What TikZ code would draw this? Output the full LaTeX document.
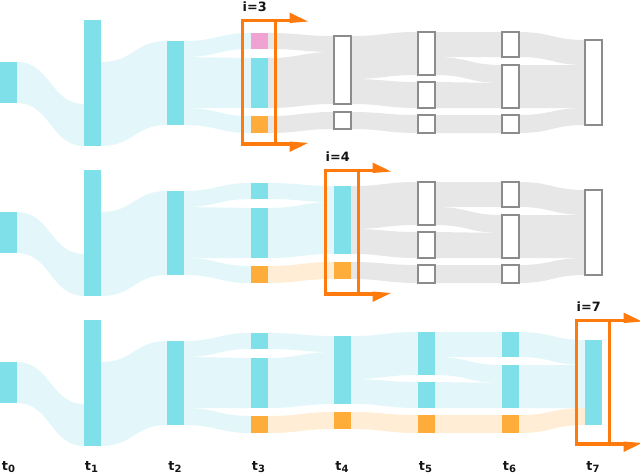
\documentclass[tikz,border=0pt]{standalone}
\usepackage{fontspec}
\setmainfont{DejaVu Sans}
\definecolor{nodecyan}{HTML}{80E0EA}
\definecolor{nodeorange}{HTML}{FFAD3A}
\definecolor{nodepink}{HTML}{F0A3D2}
\definecolor{flowcyan}{HTML}{E3F7FB}
\definecolor{floworange}{HTML}{FFEED5}
\definecolor{flowgray}{HTML}{E7E7E7}
\definecolor{boxgray}{HTML}{8C8C8C}
\definecolor{frameorange}{HTML}{FF7A0C}
\newcommand\band[7]{\fill[#1] (#2,#3) .. controls ({(#2+#5)/2},#3) and ({(#2+#5)/2},#6) .. (#5,#6) -- (#5,#7) .. controls ({(#2+#5)/2},#7) and ({(#2+#5)/2},#4) .. (#2,#4) -- cycle;}
\newcommand\nd[5]{\node[#1, minimum height={#5-#4}] (#2) at ({#3+8.5},{(#4+#5)/2}) {};}
\newcommand\hframe[3]{%
  \draw[frm] ({#1-8.5},20.5) rectangle ({#1+24.5},144);
  \draw[frm] ({#1+24.5},20.5) -- ({#1+40},20.5);
  \fill[frameorange] ({#1+38.5},12.5) -- ({#1+57},21.5) -- ({#1+38.5},23) -- cycle;
  \draw[frm] ({#1+24.5},144) -- ({#1+40},144);
  \fill[frameorange] ({#1+38.5},152) -- ({#1+57},143) -- ({#1+38.5},141.5) -- cycle;
  \node[lbl, anchor=base west] (#3) at ({#1-8.5},11.9) {i=#2};}
\newcommand\tsub[1]{\raisebox{-2.3pt}{\fontsize{10}{10}\selectfont #1}}
\begin{document}
\begin{tikzpicture}[x=1pt,y=-1pt,
  cbar/.style={fill=nodecyan, inner sep=0pt, minimum width=17pt, draw=none},
  obar/.style={fill=nodeorange, inner sep=0pt, minimum width=17pt, draw=none},
  pbar/.style={fill=nodepink, inner sep=0pt, minimum width=17pt, draw=none},
  gbox/.style={fill=white, draw=boxgray, line width=2.5pt, inner sep=0pt, minimum width=17pt},
  frm/.style={draw=frameorange, line width=3.5pt},
  lbl/.style={font=\fontsize{12.8}{14}\selectfont\bfseries, text=black!92, inner sep=0pt}]
\useasboundingbox (0,0) rectangle (640,475);

% ---------------- Row 1 ----------------
\begin{scope}
\band{flowcyan}{17}{62}{103}{84}{104}{146}
\band{flowcyan}{101}{62}{146}{167}{41}{125}
\band{flowcyan}{184}{41}{57}{251}{33}{49}
\band{flowcyan}{184}{57}{108}{251}{58}{108}
\band{flowcyan}{184}{108}{125}{251}{116}{133}
\band{flowgray}{268}{33}{49}{334}{36}{52}
\band{flowgray}{268}{58}{108}{334}{52}{104}
\band{flowgray}{268}{116}{133}{334}{112}{129}
\band{flowgray}{351}{36}{79}{418}{32}{75}
\band{flowgray}{351}{79}{104}{418}{82}{108}
\band{flowgray}{351}{112}{129}{418}{115}{133}
\band{flowgray}{435}{32}{57}{502}{32}{57}
\band{flowgray}{435}{57}{75}{502}{65}{83}
\band{flowgray}{435}{82}{108}{502}{83}{108}
\band{flowgray}{435}{115}{133}{502}{115}{133}
\band{flowgray}{519}{32}{57}{585}{40}{65}
\band{flowgray}{519}{65}{108}{585}{65}{108}
\band{flowgray}{519}{115}{133}{585}{108}{125}
\nd{cbar}{aA}{0}{62}{103}
\nd{cbar}{aB}{84}{20}{146}
\nd{cbar}{aC}{167}{41}{125}
\nd{pbar}{aD1}{251}{33}{49}
\nd{cbar}{aD2}{251}{58}{108}
\nd{obar}{aD3}{251}{116}{133}
\nd{gbox}{aE1}{334}{36}{104}
\nd{gbox}{aE2}{334}{112}{129}
\nd{gbox}{aF1}{418}{32}{75}
\nd{gbox}{aF2}{418}{82}{108}
\nd{gbox}{aF3}{418}{115}{133}
\nd{gbox}{aG1}{502}{32}{57}
\nd{gbox}{aG2}{502}{65}{108}
\nd{gbox}{aG3}{502}{115}{133}
\nd{gbox}{aH}{585}{40}{125}
\hframe{251}{3}{labA}
\end{scope}

% ---------------- Row 2 ----------------
\begin{scope}[yshift=-150pt]
\band{flowcyan}{17}{62}{103}{84}{104}{146}
\band{flowcyan}{101}{62}{146}{167}{41}{125}
\band{flowcyan}{184}{41}{57}{251}{33}{49}
\band{flowcyan}{184}{57}{108}{251}{58}{108}
\band{flowcyan}{184}{108}{125}{251}{116}{133}
\band{flowcyan}{268}{33}{49}{334}{36}{52}
\band{flowcyan}{268}{58}{108}{334}{52}{104}
\band{floworange}{268}{116}{133}{334}{112}{129}
\band{flowgray}{351}{36}{79}{418}{32}{75}
\band{flowgray}{351}{79}{104}{418}{82}{108}
\band{flowgray}{351}{112}{129}{418}{115}{133}
\band{flowgray}{435}{32}{57}{502}{32}{57}
\band{flowgray}{435}{57}{75}{502}{65}{83}
\band{flowgray}{435}{82}{108}{502}{83}{108}
\band{flowgray}{435}{115}{133}{502}{115}{133}
\band{flowgray}{519}{32}{57}{585}{40}{65}
\band{flowgray}{519}{65}{108}{585}{65}{108}
\band{flowgray}{519}{115}{133}{585}{108}{125}
\nd{cbar}{bA}{0}{62}{103}
\nd{cbar}{bB}{84}{20}{146}
\nd{cbar}{bC}{167}{41}{125}
\nd{cbar}{bD1}{251}{33}{49}
\nd{cbar}{bD2}{251}{58}{108}
\nd{obar}{bD3}{251}{116}{133}
\nd{cbar}{bE1}{334}{36}{104}
\nd{obar}{bE2}{334}{112}{129}
\nd{gbox}{bF1}{418}{32}{75}
\nd{gbox}{bF2}{418}{82}{108}
\nd{gbox}{bF3}{418}{115}{133}
\nd{gbox}{bG1}{502}{32}{57}
\nd{gbox}{bG2}{502}{65}{108}
\nd{gbox}{bG3}{502}{115}{133}
\nd{gbox}{bH}{585}{40}{125}
\hframe{334}{4}{labB}
\end{scope}

% ---------------- Row 3 ----------------
\begin{scope}[yshift=-300pt]
\band{flowcyan}{17}{62}{103}{84}{104}{146}
\band{flowcyan}{101}{62}{146}{167}{41}{125}
\band{flowcyan}{184}{41}{57}{251}{33}{49}
\band{flowcyan}{184}{57}{108}{251}{58}{108}
\band{flowcyan}{184}{108}{125}{251}{116}{133}
\band{flowcyan}{268}{33}{49}{334}{36}{52}
\band{flowcyan}{268}{58}{108}{334}{52}{104}
\band{floworange}{268}{116}{133}{334}{112}{129}
\band{flowcyan}{351}{36}{79}{418}{32}{75}
\band{flowcyan}{351}{79}{104}{418}{82}{108}
\band{floworange}{351}{112}{129}{418}{115}{133}
\band{flowcyan}{435}{32}{57}{502}{32}{57}
\band{flowcyan}{435}{57}{75}{502}{65}{83}
\band{flowcyan}{435}{82}{108}{502}{83}{108}
\band{floworange}{435}{115}{133}{502}{115}{133}
\band{flowcyan}{519}{32}{57}{585}{40}{65}
\band{flowcyan}{519}{65}{108}{585}{65}{108}
\band{floworange}{519}{115}{133}{585}{108}{125}
\nd{cbar}{cA}{0}{62}{103}
\nd{cbar}{cB}{84}{20}{146}
\nd{cbar}{cC}{167}{41}{125}
\nd{cbar}{cD1}{251}{33}{49}
\nd{cbar}{cD2}{251}{58}{108}
\nd{obar}{cD3}{251}{116}{133}
\nd{cbar}{cE1}{334}{36}{104}
\nd{obar}{cE2}{334}{112}{129}
\nd{cbar}{cF1}{418}{32}{75}
\nd{cbar}{cF2}{418}{82}{108}
\nd{obar}{cF3}{418}{115}{133}
\nd{cbar}{cG1}{502}{32}{57}
\nd{cbar}{cG2}{502}{65}{108}
\nd{obar}{cG3}{502}{115}{133}
\nd{cbar}{cH}{585}{40}{125}
\hframe{585}{7}{labC}
\end{scope}

% ---------------- time labels ----------------
\node[lbl, anchor=base] (t0) at (8.5,470.3) {t\tsub{0}};
\node[lbl, anchor=base] (t1) at (91.5,470.3) {t\tsub{1}};
\node[lbl, anchor=base] (t2) at (175,470.3) {t\tsub{2}};
\node[lbl, anchor=base] (t3) at (258.5,470.3) {t\tsub{3}};
\node[lbl, anchor=base] (t4) at (342,470.3) {t\tsub{4}};
\node[lbl, anchor=base] (t5) at (425.5,470.3) {t\tsub{5}};
\node[lbl, anchor=base] (t6) at (509.5,470.3) {t\tsub{6}};
\node[lbl, anchor=base] (t7) at (593,470.3) {t\tsub{7}};
\end{tikzpicture}
\end{document}
